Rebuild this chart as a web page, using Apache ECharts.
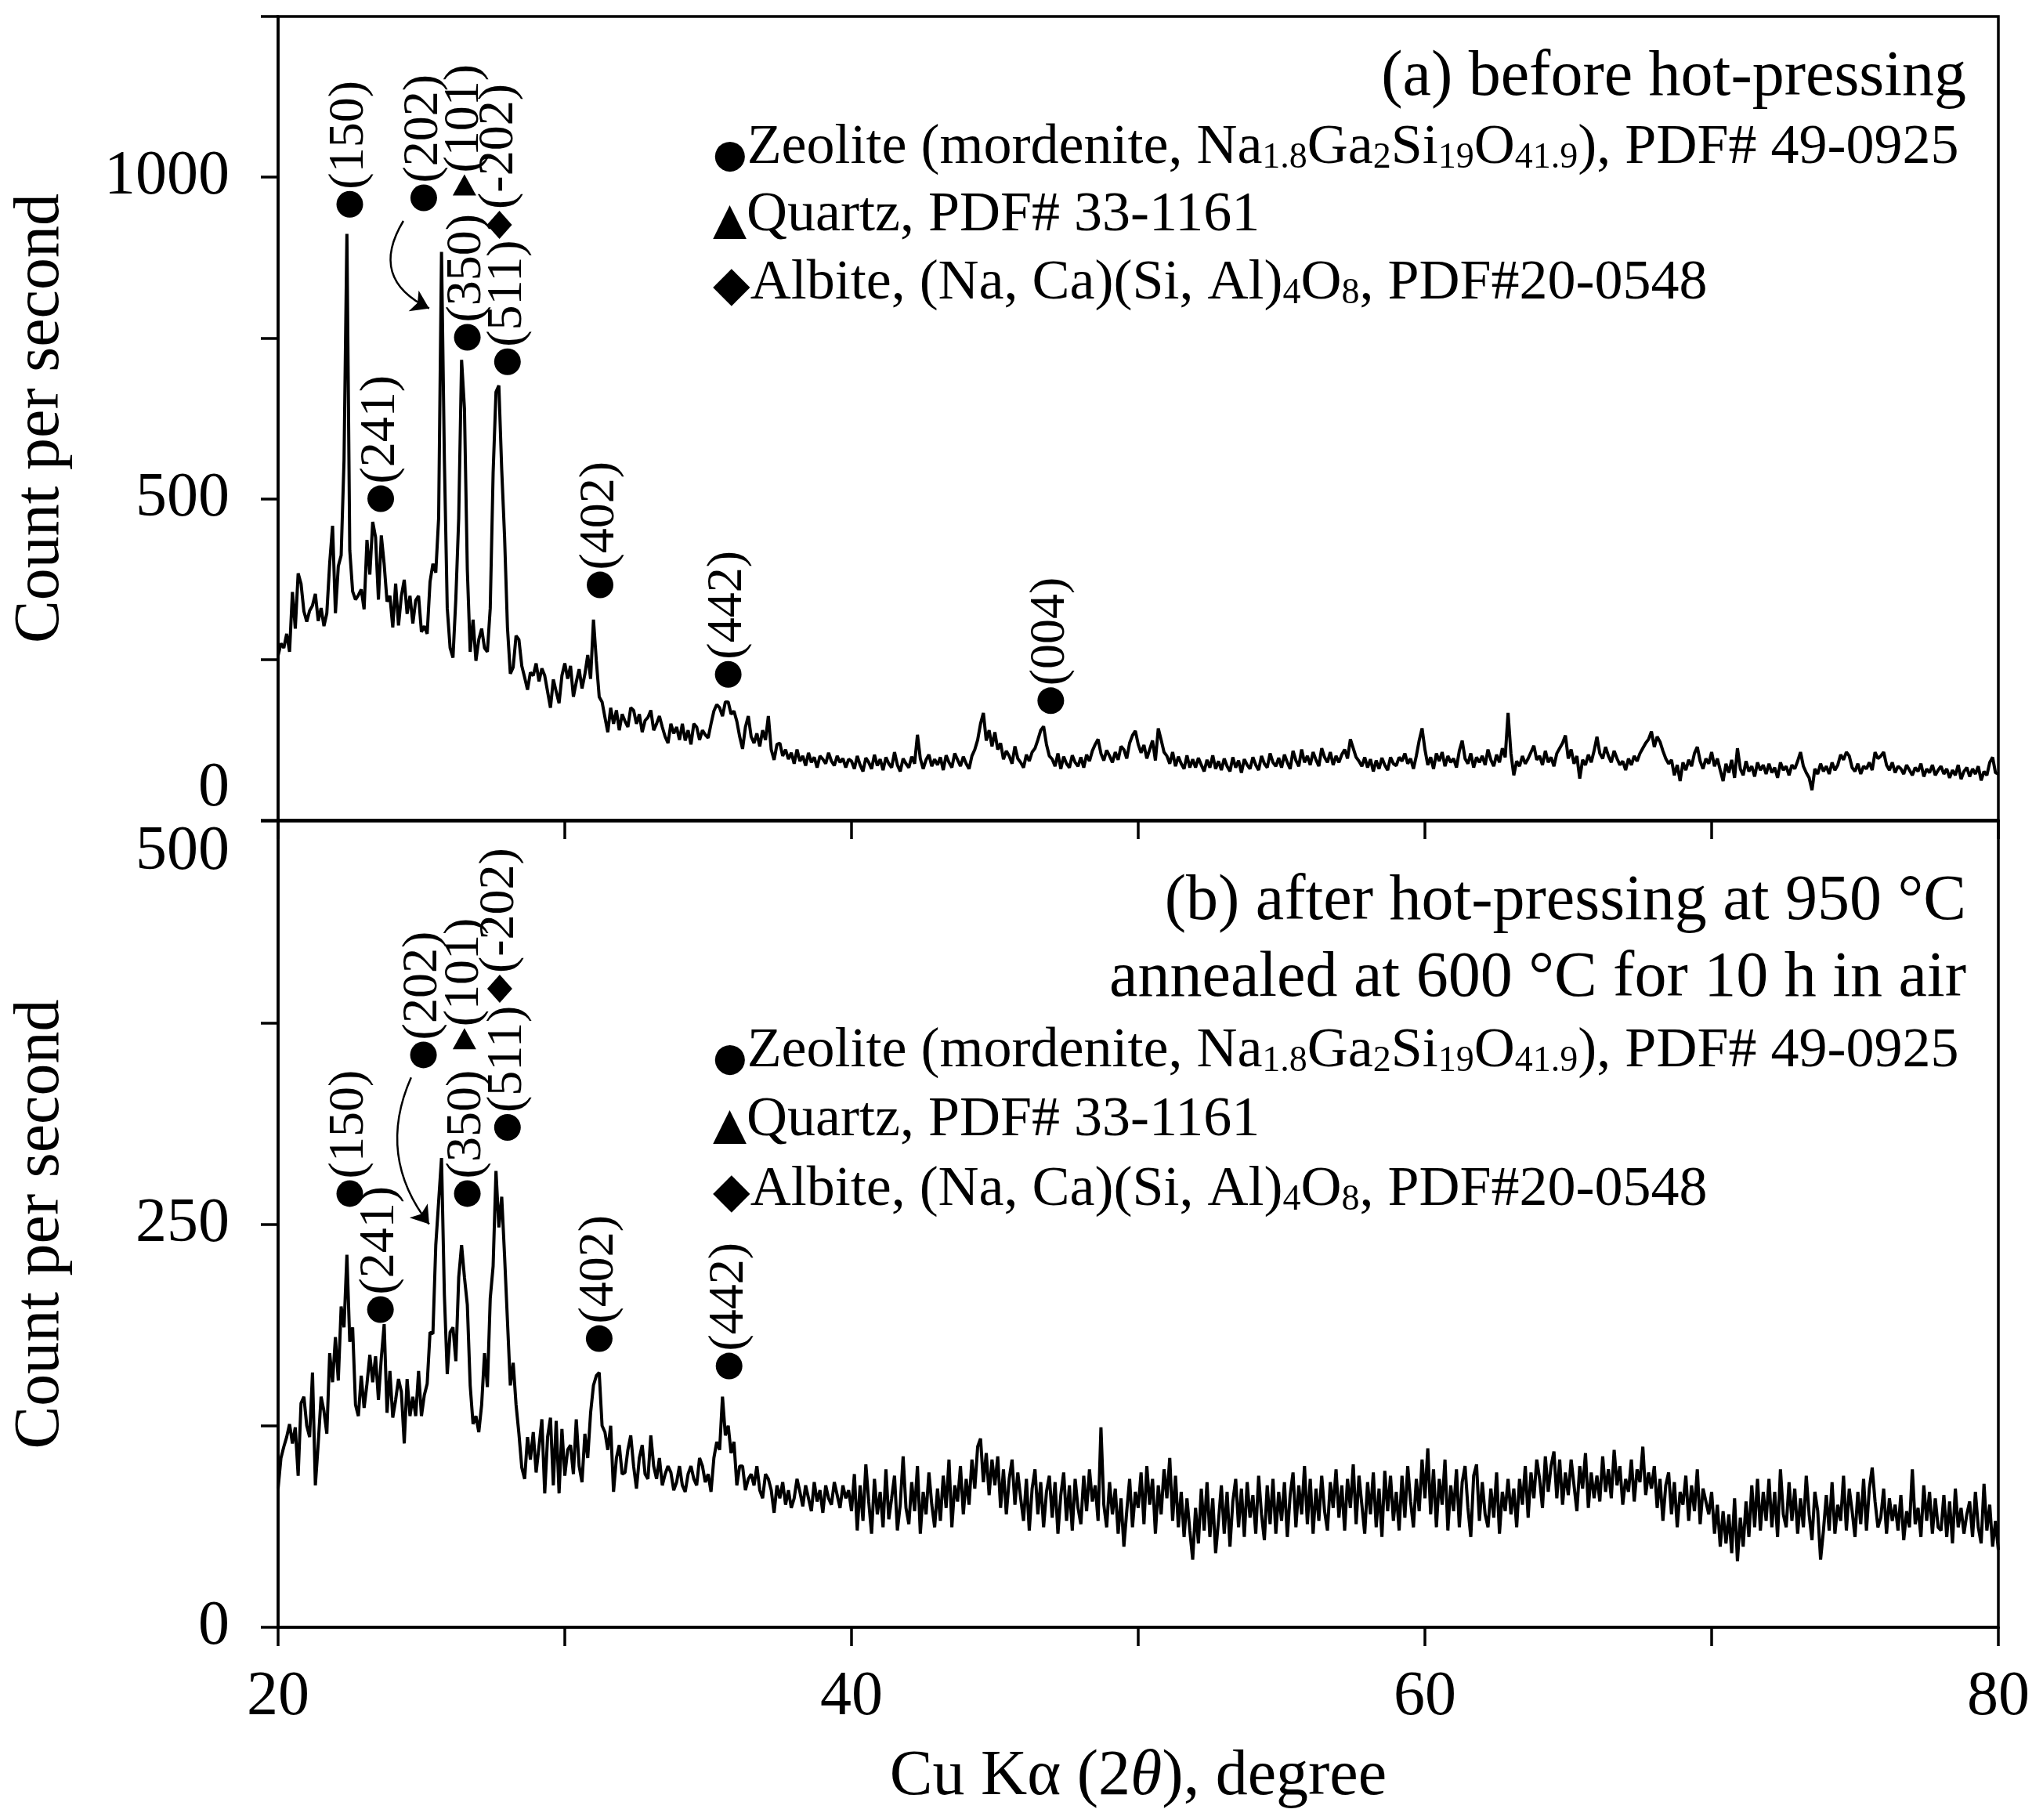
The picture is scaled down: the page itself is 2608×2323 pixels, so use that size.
<!DOCTYPE html>
<html>
<head>
<meta charset="utf-8">
<script src="https://cdn.jsdelivr.net/npm/echarts@6/dist/echarts.min.js"></script>
<style>html,body{margin:0;padding:0;background:#fff}#chart{width:2608px;height:2323px}</style>
</head>
<body>
<div id="chart"></div>
<script>
// XRD scans, one value every 0.1 degree, one row per degree
// (a) before hot-pressing
const a20 = [
  256, 275, 268, 290, 262, 355, 298, 384, 368, 325,
  309, 326, 334, 352, 310, 330, 302, 322, 400, 458,
  322, 395, 412, 560, 912, 420, 356, 343, 350, 359,
  328, 436, 382, 464, 440, 343, 443, 398, 340, 349,
  300, 368, 303, 349, 374, 321, 349, 306, 342, 349,
  293, 302, 290, 371, 399, 385, 470, 884, 560, 330,
  268, 253, 345, 470, 716, 640, 390, 262, 312, 248,
  281, 298, 268, 262, 330, 540, 666, 676, 545, 440,
  300, 228, 238, 287, 281, 240, 222, 203, 230, 225,
  244, 216, 236, 225, 200, 175, 219, 200, 182, 225
];
const a30 = [
  244, 220, 240, 192, 215, 235, 205, 227, 257, 220,
  312, 248, 192, 184, 160, 137, 175, 150, 171, 140,
  165, 154, 145, 175, 171, 150, 165, 137, 155, 160,
  171, 140, 150, 162, 145, 130, 120, 150, 135, 145,
  125, 150, 124, 140, 118, 150, 145, 125, 140, 133,
  128, 150, 170, 180, 175, 162, 184, 184, 165, 170,
  154, 130, 111, 145, 162, 130, 120, 135, 115, 140,
  125, 162, 110, 94, 118, 120, 100, 110, 95, 105,
  88, 110, 92, 100, 85, 105, 90, 98, 82, 100,
  95, 88, 105, 92, 85, 100, 90, 96, 82, 95
];
const a40 = [
  92, 80, 100, 86, 76, 97, 90, 80, 102, 85,
  95, 78, 98, 88, 82, 106, 86, 76, 96, 88,
  82, 99, 88, 133, 96, 80, 94, 102, 84, 95,
  86, 98, 78, 101, 90, 82, 104, 94, 84, 99,
  88, 80, 100, 110, 125, 150, 167, 124, 140, 115,
  137, 110, 120, 95, 108, 100, 88, 115, 96, 90,
  82, 102, 92, 106, 112, 125, 140, 146, 118, 100,
  95, 84, 104, 80, 99, 88, 82, 101, 90, 84,
  98, 82, 102, 92, 108, 118, 126, 104, 93, 109,
  100, 90, 106, 94, 115, 110, 96, 120, 132, 139
];
const a50 = [
  118, 105, 117, 96, 110, 124, 93, 143, 125, 106,
  100, 88, 106, 84, 99, 88, 80, 101, 82, 95,
  82, 97, 86, 76, 94, 82, 101, 80, 92, 78,
  96, 84, 76, 98, 82, 93, 74, 95, 86, 80,
  98, 86, 78, 100, 88, 82, 104, 90, 84, 97,
  82, 102, 90, 80, 108, 93, 84, 110, 90, 100,
  86, 106, 94, 84, 112, 98, 90, 106, 86, 100,
  90, 102, 110, 96, 126, 112, 98, 92, 84, 98,
  82, 95, 76, 93, 80, 97, 86, 78, 98, 88,
  85, 98, 92, 104, 88, 96, 80, 100, 124, 143
];
const a60 = [
  110, 86, 98, 80, 104, 92, 106, 84, 100, 90,
  96, 82, 108, 124, 96, 88, 104, 82, 98, 90,
  100, 86, 110, 94, 84, 102, 90, 112, 98, 167,
  104, 70, 92, 84, 100, 88, 96, 106, 116, 94,
  100, 86, 108, 90, 98, 84, 104, 112, 120, 132,
  96, 110, 88, 100, 65, 94, 86, 102, 90, 108,
  130, 104, 96, 114, 100, 90, 108, 96, 86, 92,
  78, 96, 86, 100, 92, 104, 112, 120, 126, 138,
  114, 130, 122, 108, 96, 88, 94, 70, 86, 61,
  90, 78, 94, 84, 104, 114, 92, 80, 96, 88
];
const a70 = [
  106, 84, 96, 78, 61, 88, 74, 94, 66, 112,
  80, 70, 92, 76, 84, 68, 90, 78, 86, 72,
  88, 74, 82, 66, 90, 78, 84, 70, 86, 80,
  92, 106, 84, 74, 66, 47, 80, 72, 88, 76,
  84, 72, 90, 78, 86, 102, 94, 106, 100, 82,
  76, 88, 72, 84, 80, 90, 78, 106, 96, 100,
  106, 86, 78, 90, 74, 84, 80, 72, 86, 78,
  70, 82, 76, 88, 68, 80, 74, 86, 70, 78,
  84, 72, 80, 66, 78, 70, 86, 64, 76, 82,
  68, 80, 72, 84, 62, 76, 70, 90, 98, 74
];
const aEnd = 72;

// (b) after hot-pressing and annealing
const b20 = [
  86, 105, 112, 118, 126, 114, 124, 94, 139, 143,
  125, 118, 158, 88, 114, 143, 134, 120, 170, 152,
  180, 153, 199, 186, 231, 177, 186, 138, 131, 156,
  136, 151, 169, 152, 168, 141, 167, 188, 133, 159,
  130, 141, 154, 146, 114, 154, 131, 143, 131, 159,
  131, 144, 151, 183, 182, 237, 264, 291, 206, 157,
  183, 186, 165, 217, 237, 217, 200, 150, 126, 131,
  121, 138, 170, 149, 204, 224, 283, 248, 267, 230,
  190, 150, 164, 138, 120, 99, 92, 118, 104, 121,
  96, 112, 129, 83, 118, 130, 88, 128, 83, 123
];
const b30 = [
  94, 110, 113, 95, 129, 100, 90, 120, 105, 133,
  150, 156, 158, 125, 121, 110, 125, 84, 105, 113,
  95, 96, 110, 119, 100, 86, 105, 113, 95, 92,
  119, 100, 92, 105, 88, 95, 100, 96, 85, 90,
  100, 88, 84, 95, 100, 92, 88, 105, 100, 90,
  95, 84, 105, 115, 110, 143, 119, 125, 108, 115,
  88, 100, 100, 85, 92, 95, 88, 100, 85, 80,
  95, 92, 85, 71, 88, 80, 90, 76, 85, 74,
  80, 92, 84, 75, 88, 80, 72, 90, 78, 85,
  71, 88, 80, 76, 90, 82, 74, 88, 80, 85
];
const b40 = [
  72, 95, 60, 88, 66, 101, 78, 58, 92, 70,
  84, 62, 98, 67, 80, 94, 60, 76, 106, 74,
  64, 90, 72, 100, 58, 84, 70, 96, 76, 62,
  86, 66, 94, 74, 104, 62, 88, 78, 100, 70,
  92, 76, 104, 86, 112, 117, 90, 108, 82, 104,
  88, 106, 74, 98, 70, 92, 104, 76, 96, 80,
  66, 92, 60, 86, 98, 70, 90, 62, 84, 94,
  68, 90, 58, 82, 96, 66, 88, 60, 92, 74,
  64, 94, 72, 98, 78, 88, 66, 124, 76, 62,
  90, 70, 86, 58, 80, 50, 72, 92, 62, 84
];
const b50 = [
  74, 96, 64, 100, 76, 92, 58, 88, 70, 98,
  80, 105, 66, 94, 62, 84, 56, 80, 60, 42,
  74, 52, 86, 60, 90, 56, 80, 46, 66, 88,
  58, 84, 50, 78, 92, 62, 86, 56, 90, 68,
  82, 58, 94, 70, 54, 88, 64, 92, 58, 84,
  66, 90, 56, 82, 96, 62, 88, 70, 100, 64,
  92, 58, 86, 66, 94, 72, 60, 90, 74, 98,
  68, 88, 60, 92, 74, 101, 64, 94, 76, 58,
  90, 70, 96, 62, 86, 56, 97, 72, 94, 66,
  84, 60, 94, 68, 100, 78, 62, 92, 72, 104
];
const b60 = [
  80, 111, 70, 98, 62, 92, 76, 104, 60, 88,
  72, 98, 62, 90, 100, 74, 56, 94, 101, 66,
  90, 70, 62, 86, 68, 96, 58, 84, 72, 92,
  70, 86, 62, 92, 76, 100, 68, 96, 80, 104,
  92, 74, 106, 84, 100, 109, 80, 104, 76, 96,
  82, 104, 88, 72, 100, 86, 108, 74, 96, 80,
  94, 78, 106, 84, 98, 80, 110, 88, 100, 76,
  92, 84, 104, 78, 98, 90, 112, 82, 96, 86,
  100, 74, 92, 66, 88, 96, 70, 90, 62, 84,
  76, 94, 66, 88, 72, 98, 64, 86, 78, 70
];
const b70 = [
  84, 58, 76, 50, 72, 52, 70, 46, 80, 41,
  68, 50, 78, 56, 88, 62, 92, 60, 84, 66,
  92, 62, 84, 56, 98, 70, 62, 90, 66, 86,
  58, 80, 62, 94, 70, 54, 84, 72, 42, 60,
  82, 60, 90, 58, 76, 66, 94, 60, 86, 72,
  56, 84, 64, 92, 60, 86, 99, 78, 62, 68,
  86, 58, 80, 66, 76, 60, 82, 54, 72, 62,
  98, 64, 74, 56, 88, 66, 84, 58, 80, 62,
  60, 82, 56, 78, 52, 86, 62, 74, 58, 70,
  78, 56, 84, 62, 52, 89, 60, 76, 50, 66
];
const bEnd = 48;

// peak labels: position of the marker (2theta, cps), Miller index, phase
const peakAx = [22.5, 23.58, 25.08, 26.6, 26.5, 28.0, 27.72, 31.23, 35.7, 46.95];
const peakAy = [958, 500, 968, 751, 988, 713, 926, 366, 227, 186];
const peakAhkl = ['(150)', '(241)', '(202)', '(350)', '(101)', '(511)', '(-202)', '(402)', '(442)', '(004)'];
const peakAphase = ['Z', 'Z', 'Z', 'Z', 'Q', 'Z', 'A', 'Z', 'Z', 'Z'];

const peakBx = [22.5, 23.57, 25.07, 26.6, 26.5, 28.0, 27.73, 31.2, 35.73];
const peakBy = [269, 197, 355, 269, 365, 310, 396, 179, 162];
const peakBhkl = ['(150)', '(241)', '(202)', '(350)', '(101)', '(511)', '(-202)', '(402)', '(442)'];
const peakBphase = ['Z', 'Z', 'Z', 'Z', 'Q', 'Z', 'A', 'Z', 'Z'];

// curved pointer from the (202) label to its peak
const arrowA = [[24.37, 932], [25.27, 796]];
const arrowB = [[24.64, 341], [25.27, 250]];

const xTicks = [20, 40, 60, 80];

const FONT = 'Liberation Serif';
const SYM = { Z: 'circle', Q: 'triangle', A: 'diamond' };
const SYMSIZE = { Z: 34, Q: [30, 27], A: [32, 36] };

function scan(segs, last) {
  const out = [];
  segs.forEach(function (seg, k) {
    seg.forEach(function (v, i) {
      out.push([+(20 + k * 10 + i * 0.1).toFixed(1), v]);
    });
  });
  out.push([80, last]);
  return out;
}

function marks(xs, ys, hkl, ph) {
  return xs.map(function (x, i) {
    return { name: hkl[i], value: [x, ys[i]], symbol: SYM[ph[i]], symbolSize: SYMSIZE[ph[i]] };
  });
}

const L = 355, R = 2608 - 2551;
const axisLine = { show: true, onZero: false, lineStyle: { color: '#000', width: 3.5 } };
const tickStyle = { lineStyle: { color: '#000', width: 3.5 } };

function xAxis(idx, showLabel) {
  return {
    type: 'value', gridIndex: idx, min: 20, max: 80, interval: 10,
    axisLine: axisLine,
    axisTick: Object.assign({ show: true, inside: false, length: 24 }, tickStyle),
    splitLine: { show: false },
    axisLabel: {
      show: showLabel, margin: 50, fontSize: 80, fontFamily: FONT, color: '#000',
      formatter: function (v) { return xTicks.indexOf(v) >= 0 ? String(v) : ''; }
    },
    name: showLabel ? 'Cu Kα (2{i|θ}), degree' : '',
    nameLocation: 'middle', nameGap: 150,
    nameTextStyle: {
      fontSize: 82, fontFamily: FONT, color: '#000',
      rich: { i: { fontSize: 82, fontFamily: FONT, fontStyle: 'italic', color: '#000' } }
    }
  };
}

function yAxis(idx, max, step, labelStep, edge) {
  const label = {
    margin: 62, fontSize: 80, fontFamily: FONT, color: '#000',
    formatter: function (v) { return v % labelStep === 0 ? String(v) : ''; }
  };
  // keep the 0 of (a) and the 500 of (b) inside their own panels
  if (edge === 'min') label.verticalAlignMinLabel = 'bottom';
  if (edge === 'max') label.verticalAlignMaxLabel = 'top';
  return {
    type: 'value', gridIndex: idx, min: 0, max: max, interval: step,
    axisLine: axisLine,
    axisTick: Object.assign({ show: true, inside: false, length: 22 }, tickStyle),
    splitLine: { show: false },
    axisLabel: label,
    name: 'Count per second', nameLocation: 'middle', nameGap: 262,
    nameTextStyle: { fontSize: 82, fontFamily: FONT, color: '#000' }
  };
}

const peakLabel = {
  show: true, formatter: '{b}', position: 'top', distance: 2, rotate: 90,
  align: 'left', verticalAlign: 'middle',
  fontSize: 64, fontFamily: FONT, color: '#000'
};

function lineSeries(idx, data) {
  return {
    type: 'line', xAxisIndex: idx, yAxisIndex: idx, data: data,
    showSymbol: false, symbol: 'none', lineStyle: { color: '#000', width: 4 },
    silent: true, z: 2
  };
}
function peakSeries(idx, data) {
  return {
    type: 'scatter', xAxisIndex: idx, yAxisIndex: idx, data: data,
    itemStyle: { color: '#000', opacity: 1 }, label: peakLabel, z: 3, silent: true
  };
}
function arrowSeries(idx, coords, curv) {
  return {
    type: 'lines', coordinateSystem: 'cartesian2d', xAxisIndex: idx, yAxisIndex: idx,
    data: [{ coords: coords }],
    symbol: ['none', 'arrow'], symbolSize: [0, 22],
    lineStyle: { color: '#000', width: 2.5, curveness: curv, opacity: 1 },
    silent: true, z: 3
  };
}

const legendRich = {
  t: { fontSize: 72, fontFamily: FONT, color: '#000', lineHeight: 72, verticalAlign: 'bottom' },
  s: { fontSize: 46, fontFamily: FONT, color: '#000', lineHeight: 26, verticalAlign: 'bottom' },
  mc: { fontSize: 50, fontFamily: 'DejaVu Sans', color: '#000', lineHeight: 72, verticalAlign: 'bottom' },
  mt: { fontSize: 56, fontFamily: 'DejaVu Sans', color: '#000', lineHeight: 72, verticalAlign: 'bottom' },
  md: { fontSize: 62, fontFamily: 'DejaVu Sans', color: '#000', lineHeight: 72, verticalAlign: 'bottom' }
};
const legendLines = [
  '{mc|●}{t|Zeolite (mordenite, Na}{s|1.8}{t|Ga}{s|2}{t|Si}{s|19}{t|O}{s|41.9}{t|), PDF# 49-0925}',
  '{mt|▲}{t|Quartz, PDF# 33-1161}',
  '{md|◆}{t|Albite, (Na, Ca)(Si, Al)}{s|4}{t|O}{s|8}{t|, PDF#20-0548}'
];

function legendBlock(tops) {
  return legendLines.map(function (txt, i) {
    return {
      type: 'text', left: 910, top: tops[i],
      style: { text: txt, rich: legendRich }
    };
  });
}
function titleText(txt, top) {
  return {
    type: 'text', right: 2608 - 2510, top: top,
    style: { text: txt, font: '82px "' + FONT + '"', fill: '#000' }
  };
}

const chart = echarts.init(document.getElementById('chart'), null, { renderer: 'canvas' });
chart.setOption({
  backgroundColor: '#fff',
  animation: false,
  grid: [
    { left: L, right: R, top: 21, height: 1026, show: true, borderColor: '#000', borderWidth: 3.5 },
    { left: L, right: R, top: 1048, height: 1029, show: true, borderColor: '#000', borderWidth: 3.5 }
  ],
  xAxis: [xAxis(0, false), xAxis(1, true)],
  yAxis: [yAxis(0, 1250, 250, 500, 'min'), yAxis(1, 500, 125, 250, 'max')],
  series: [
    lineSeries(0, scan([a20, a30, a40, a50, a60, a70], aEnd)),
    lineSeries(1, scan([b20, b30, b40, b50, b60, b70], bEnd)),
    peakSeries(0, marks(peakAx, peakAy, peakAhkl, peakAphase)),
    peakSeries(1, marks(peakBx, peakBy, peakBhkl, peakBphase)),
    arrowSeries(0, arrowA, -0.55),
    arrowSeries(1, arrowB, -0.3)
  ],
  graphic: [
    titleText('(a) before hot-pressing', 58),
    titleText('(b) after hot-pressing at 950 °C', 1110),
    titleText('annealed at 600 °C for 10 h in air', 1208)
  ].concat(legendBlock([153, 239, 326])).concat(legendBlock([1306, 1394, 1483]))
});
</script>
</body>
</html>
